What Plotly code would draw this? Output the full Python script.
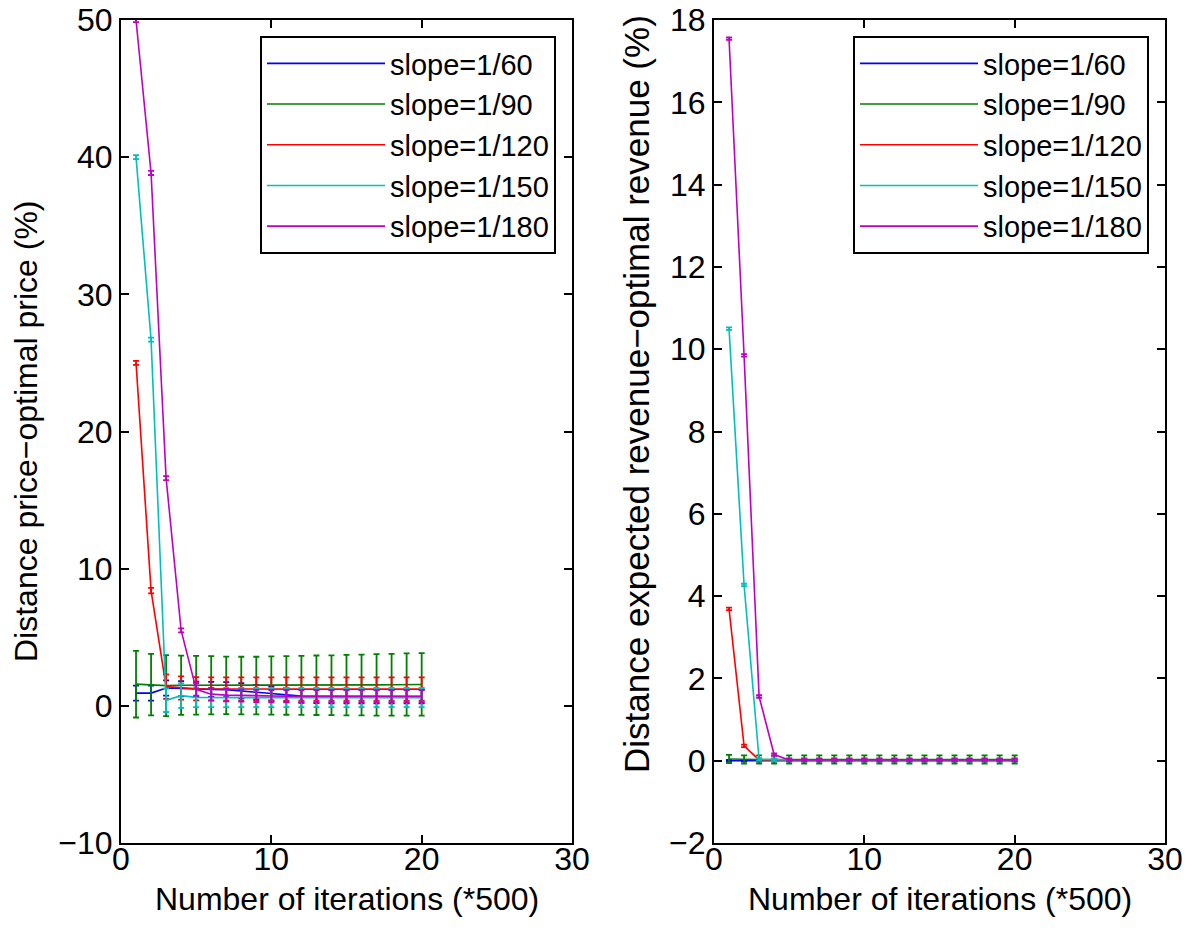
import plotly.graph_objects as go

FONT = "Liberation Sans, Arial, sans-serif"

iterations = list(range(1, 21))
series_names = ["slope=1/60", "slope=1/90", "slope=1/120", "slope=1/150", "slope=1/180"]
colors = ["#0000ff", "#008000", "#ff0000", "#00bfbf", "#bf00bf"]

# Left panel: distance price - optimal price (%)
price_60 = [0.93, 0.93, 1.30, 1.25, 1.22, 1.20, 1.18, 1.10, 1.00, 0.90,
            0.80, 0.72, 0.70, 0.69, 0.68, 0.68, 0.68, 0.68, 0.68, 0.68]
price_60_err = [0.55, 0.55, 0.55, 0.55, 0.55, 0.55, 0.55, 0.55, 0.53, 0.52,
                0.50, 0.50, 0.50, 0.50, 0.50, 0.50, 0.50, 0.50, 0.50, 0.50]
price_90 = [1.58, 1.55, 1.47, 1.50, 1.50, 1.50, 1.49, 1.48, 1.48, 1.48,
            1.49, 1.49, 1.50, 1.50, 1.51, 1.52, 1.53, 1.54, 1.55, 1.56]
price_90_err = [2.43, 2.24, 2.22, 2.16, 2.14, 2.12, 2.10, 2.10, 2.10, 2.12,
                2.14, 2.15, 2.17, 2.18, 2.20, 2.22, 2.24, 2.25, 2.27, 2.28]
price_120 = [25.0, 8.4, 1.40, 1.30, 1.25, 1.23, 1.22, 1.22, 1.22, 1.22,
             1.22, 1.22, 1.22, 1.22, 1.22, 1.22, 1.22, 1.22, 1.22, 1.22]
price_120_err = [0.15, 0.2, 0.90, 0.85, 0.85, 0.85, 0.85, 0.85, 0.85, 0.85,
                 0.85, 0.85, 0.85, 0.85, 0.85, 0.85, 0.85, 0.85, 0.85, 0.85]
price_150 = [40.0, 26.7, 0.40, 0.74, 0.62, 0.60, 0.60, 0.60, 0.60, 0.60,
             0.60, 0.60, 0.60, 0.60, 0.60, 0.60, 0.60, 0.60, 0.60, 0.60]
price_150_err = [0.15, 0.15, 0.85, 0.89, 0.72, 0.70, 0.70, 0.70, 0.70, 0.70,
                 0.70, 0.70, 0.70, 0.70, 0.70, 0.70, 0.70, 0.70, 0.70, 0.70]
price_180 = [50.0, 38.85, 16.6, 5.5, 1.20, 0.85, 0.78, 0.75, 0.72, 0.70,
             0.70, 0.70, 0.70, 0.70, 0.70, 0.70, 0.70, 0.70, 0.70, 0.70]
price_180_err = [0.15, 0.15, 0.15, 0.15, 0.45, 0.45, 0.45, 0.45, 0.45, 0.45,
                 0.45, 0.45, 0.45, 0.45, 0.45, 0.45, 0.45, 0.45, 0.45, 0.45]

# Right panel: distance expected revenue - optimal revenue (%)
rev_60 = [0.0] * 20
rev_60_err = [0.02] * 20
rev_90 = [0.04, 0.03, 0.03, 0.03, 0.03, 0.03, 0.03, 0.03, 0.03, 0.03,
          0.03, 0.03, 0.03, 0.03, 0.03, 0.03, 0.03, 0.03, 0.03, 0.03]
rev_90_err = [0.10] * 20
rev_120 = [3.69, 0.36, 0.02, 0.02, 0.02, 0.02, 0.02, 0.02, 0.02, 0.02,
           0.02, 0.02, 0.02, 0.02, 0.02, 0.02, 0.02, 0.02, 0.02, 0.02]
rev_120_err = [0.03] * 20
rev_150 = [10.5, 4.27, 0.03, 0.02, 0.02, 0.02, 0.02, 0.02, 0.02, 0.02,
           0.02, 0.02, 0.02, 0.02, 0.02, 0.02, 0.02, 0.02, 0.02, 0.02]
rev_150_err = [0.03] * 20
rev_180 = [17.55, 9.85, 1.56, 0.15, 0.02, 0.02, 0.02, 0.02, 0.02, 0.02,
           0.02, 0.02, 0.02, 0.02, 0.02, 0.02, 0.02, 0.02, 0.02, 0.02]
rev_180_err = [0.03] * 20

left_values = [price_60, price_90, price_120, price_150, price_180]
left_errors = [price_60_err, price_90_err, price_120_err, price_150_err, price_180_err]
right_values = [rev_60, rev_90, rev_120, rev_150, rev_180]
right_errors = [rev_60_err, rev_90_err, rev_120_err, rev_150_err, rev_180_err]

x_ticks = [0, 10, 20, 30]
left_y_ticks = [-10, 0, 10, 20, 30, 40, 50]
right_y_ticks = [-2, 0, 2, 4, 6, 8, 10, 12, 14, 16, 18]

x_title = "Number of iterations (*500)"
left_y_title = "Distance price\u2212optimal price (%)"
right_y_title = "Distance expected revenue\u2212optimal revenue (%)"

fig = go.Figure()

for name, col, vals, errs in zip(series_names, colors, left_values, left_errors):
    fig.add_trace(go.Scatter(
        x=iterations, y=vals, mode="lines", name=name,
        line=dict(color=col, width=1.6),
        error_y=dict(type="data", array=errs, visible=True, color=col,
                     thickness=1.8, width=3),
        xaxis="x", yaxis="y", legend="legend"))

for name, col, vals, errs in zip(series_names, colors, right_values, right_errors):
    fig.add_trace(go.Scatter(
        x=iterations, y=vals, mode="lines", name=name,
        line=dict(color=col, width=1.6),
        error_y=dict(type="data", array=errs, visible=True, color=col,
                     thickness=1.8, width=3),
        xaxis="x2", yaxis="y2", legend="legend2"))

W, H = 1192, 933
ytop, ybot = 20, 843
yd = [1 - ybot / H, 1 - ytop / H]
xd1 = [121 / W, 572 / W]
xd2 = [714 / W, 1165 / W]

axis_common = dict(
    showgrid=False, zeroline=False, showline=True, linecolor="black",
    linewidth=2, mirror="allticks", ticks="inside", ticklen=8,
    tickwidth=1.5, tickcolor="black", automargin=False,
    tickfont=dict(family=FONT, size=32, color="black"),
)

title_font = dict(family=FONT, size=32, color="black")
annotations = [
    dict(text=x_title, xref="paper", yref="paper", x=sum(xd1) / 2, y=1 - 899 / H,
         xanchor="center", yanchor="middle", showarrow=False, font=title_font,
         borderpad=0),
    dict(text=x_title, xref="paper", yref="paper", x=sum(xd2) / 2, y=1 - 899 / H,
         xanchor="center", yanchor="middle", showarrow=False, font=title_font,
         borderpad=0),
    dict(text=left_y_title, xref="paper", yref="paper", x=26 / W, y=1 - 431 / H,
         xanchor="center", yanchor="middle", showarrow=False, textangle=-90,
         font=title_font),
    dict(text=right_y_title, xref="paper", yref="paper", x=636 / W, y=1 - 394 / H,
         xanchor="center", yanchor="middle", showarrow=False, textangle=-90,
         font=dict(family=FONT, size=35, color="black")),
]

legend_common = dict(
    xanchor="right", yanchor="top", bgcolor="white", bordercolor="black",
    borderwidth=2, font=dict(family=FONT, size=29, color="black"),
    itemwidth=118, tracegroupgap=0,
)

fig.update_layout(
    template="none",
    width=W, height=H,
    margin=dict(l=0, r=0, t=0, b=0, autoexpand=False),
    paper_bgcolor="white", plot_bgcolor="white",
    font=dict(family=FONT, size=32, color="black"),
    xaxis=dict(domain=xd1, anchor="y", range=[0, 30], tickvals=x_ticks,
               ticklabelstandoff=-13, **axis_common),
    yaxis=dict(domain=yd, anchor="x", range=[-10, 50], tickvals=left_y_ticks,
               **axis_common),
    xaxis2=dict(domain=xd2, anchor="y2", range=[0, 30], tickvals=x_ticks,
                ticklabelstandoff=-13, **axis_common),
    yaxis2=dict(domain=yd, anchor="x2", range=[-2, 18], tickvals=right_y_ticks,
                **axis_common),
    annotations=annotations,
    legend=dict(x=556 / W, y=1 - 36 / H, **legend_common),
    legend2=dict(x=1149 / W, y=1 - 36 / H, **legend_common),
    showlegend=True,
)

fig.write_html("out.html")
